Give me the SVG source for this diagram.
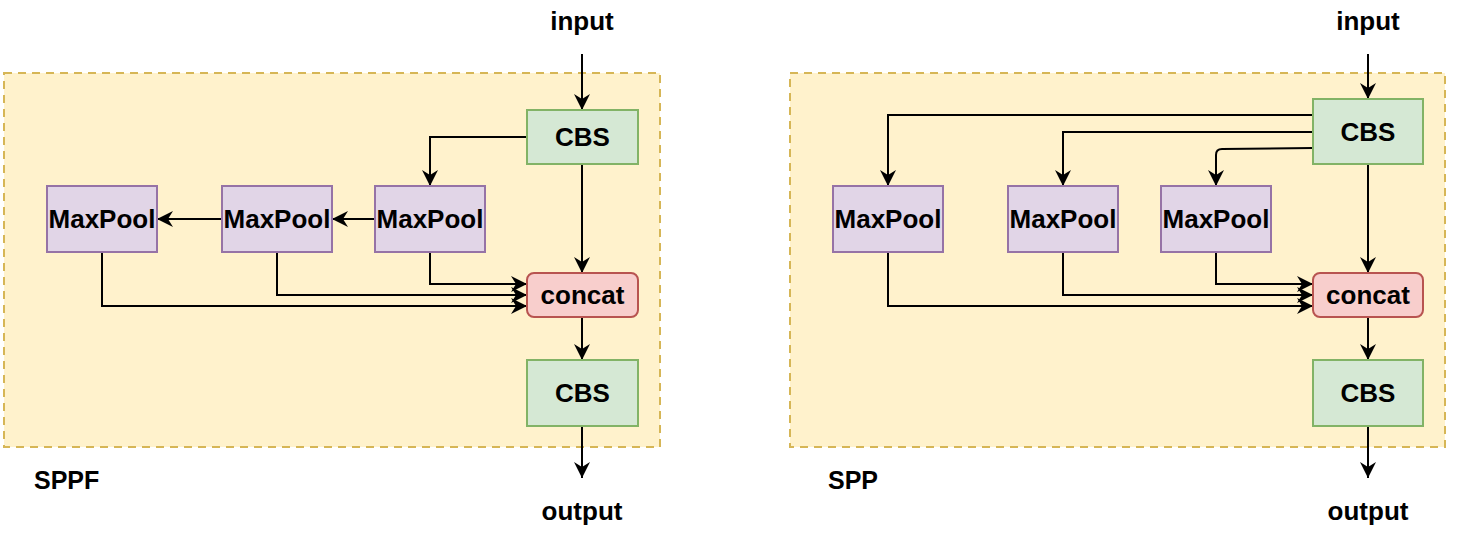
<svg xmlns="http://www.w3.org/2000/svg" width="1461" height="535" viewBox="0 0 1461 535">
<style>
text{font-family:"Liberation Sans",Arial,sans-serif;font-weight:bold;font-size:26px;fill:#000;text-anchor:middle}
.grp{fill:#fff2cc;stroke:#d6b656;stroke-width:2;stroke-dasharray:8 6}
.cbs{fill:#d5e8d4;stroke:#82b366;stroke-width:2}
.mp{fill:#e1d5e7;stroke:#9673a6;stroke-width:2}
.cc{fill:#f8cecc;stroke:#b85450;stroke-width:2}
.e{fill:none;stroke:#000;stroke-width:2;marker-end:url(#ah)}
.lbl{text-anchor:start;font-size:25px}
</style>
<defs>
<marker id="ah" markerUnits="userSpaceOnUse" markerWidth="18" markerHeight="18" refX="16" refY="8" orient="auto">
<path d="M0,0 L16,8 L0,16 L5,8 Z" fill="#000"/>
</marker>
</defs>
<g id="sppf-group"><rect class="grp" x="4" y="73" width="656" height="374"/><text class="lbl" x="34" y="489">SPPF</text></g>
<g id="spp-group"><rect class="grp" x="790" y="73" width="655" height="374"/><text class="lbl" x="828" y="489">SPP</text></g>
<g id="sppf-input"><text x="582" y="30">input</text></g>
<g id="sppf-output"><text x="582" y="520">output</text></g>
<g id="spp-input"><text x="1368" y="30">input</text></g>
<g id="spp-output"><text x="1368" y="520">output</text></g>
<g id="connectors">
<path class="e" d="M582,54 L582,110"/>
<path class="e" d="M527,137 L430,137 L430,186"/>
<path class="e" d="M582,164 L582,273"/>
<path class="e" d="M375,219 L332,219"/>
<path class="e" d="M222,219 L157,219"/>
<path class="e" d="M430,252 L430,284 L527,284"/>
<path class="e" d="M277,252 L277,295 L527,295"/>
<path class="e" d="M102,252 L102,306 L527,306"/>
<path class="e" d="M582,317 L582,360"/>
<path class="e" d="M582,426 L582,478"/>
<path class="e" d="M1368,54 L1368,99"/>
<path class="e" d="M1313,115 L888,115 L888,186"/>
<path class="e" d="M1313,132 L1063,132 L1063,186"/>
<path class="e" d="M1313,148 L1222,149 Q1216,149 1216,155 L1216,186"/>
<path class="e" d="M1368,164 L1368,273"/>
<path class="e" d="M1216,252 L1216,284 L1313,284"/>
<path class="e" d="M1063,252 L1063,295 L1313,295"/>
<path class="e" d="M888,252 L888,306 L1313,306"/>
<path class="e" d="M1368,317 L1368,360"/>
<path class="e" d="M1368,426 L1368,478"/>
</g>
<g id="sppf-cbs1"><rect class="cbs" x="527" y="110" width="111" height="54"/><text x="582.5" y="146">CBS</text></g>
<g id="sppf-mp3"><rect class="mp" x="375" y="186" width="110" height="66"/><text x="430" y="228">MaxPool</text></g>
<g id="sppf-mp2"><rect class="mp" x="222" y="186" width="110" height="66"/><text x="277" y="228">MaxPool</text></g>
<g id="sppf-mp1"><rect class="mp" x="47" y="186" width="110" height="66"/><text x="102" y="228">MaxPool</text></g>
<g id="sppf-concat"><rect class="cc" x="527" y="273" width="111" height="44" rx="7"/><text x="582.5" y="304">concat</text></g>
<g id="sppf-cbs2"><rect class="cbs" x="527" y="360" width="111" height="66"/><text x="582.5" y="402">CBS</text></g>
<g id="spp-cbs1"><rect class="cbs" x="1313" y="99" width="110" height="65"/><text x="1368" y="141">CBS</text></g>
<g id="spp-mp1"><rect class="mp" x="833" y="186" width="110" height="66"/><text x="888" y="228">MaxPool</text></g>
<g id="spp-mp2"><rect class="mp" x="1008" y="186" width="110" height="66"/><text x="1063" y="228">MaxPool</text></g>
<g id="spp-mp3"><rect class="mp" x="1161" y="186" width="110" height="66"/><text x="1216" y="228">MaxPool</text></g>
<g id="spp-concat"><rect class="cc" x="1313" y="273" width="110" height="44" rx="7"/><text x="1368" y="304">concat</text></g>
<g id="spp-cbs2"><rect class="cbs" x="1313" y="360" width="110" height="66"/><text x="1368" y="402">CBS</text></g>
</svg>
